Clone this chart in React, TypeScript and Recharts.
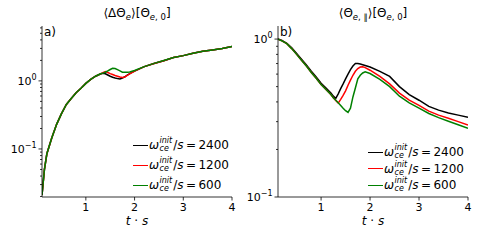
import React from 'react';
import { LineChart, Line, XAxis, YAxis, Legend } from 'recharts';

const FONT = '"DejaVu Sans", sans-serif';

// ---- data panel a: <ΔΘe>
const tA = [0.1, 0.15, 0.2, 0.3, 0.4, 0.5, 0.6, 0.7, 0.8, 0.9, 1.0, 1.1, 1.2, 1.3, 1.35, 1.4, 1.45, 1.5, 1.55, 1.6, 1.65, 1.7, 1.75, 1.8, 1.85, 1.9, 2.0, 2.2, 2.4, 2.6, 2.8, 3.0, 3.2, 3.4, 3.6, 3.8, 4.0];
const blackA = [0.021, 0.05, 0.085, 0.145, 0.23, 0.33, 0.45, 0.55, 0.67, 0.78, 0.92, 1.05, 1.17, 1.26, 1.29, 1.27, 1.22, 1.17, 1.13, 1.1, 1.08, 1.07, 1.1, 1.15, 1.22, 1.28, 1.39, 1.62, 1.8, 1.98, 2.2, 2.35, 2.55, 2.72, 2.85, 3.0, 3.19];
const redA = [0.021, 0.05, 0.085, 0.145, 0.23, 0.33, 0.45, 0.55, 0.67, 0.78, 0.92, 1.05, 1.17, 1.27, 1.32, 1.37, 1.33, 1.28, 1.24, 1.2, 1.17, 1.14, 1.12, 1.14, 1.2, 1.27, 1.39, 1.62, 1.8, 1.98, 2.2, 2.35, 2.55, 2.72, 2.85, 3.0, 3.19];
const greenA = [0.021, 0.05, 0.085, 0.145, 0.23, 0.33, 0.45, 0.55, 0.67, 0.78, 0.92, 1.05, 1.17, 1.27, 1.3, 1.34, 1.4, 1.47, 1.53, 1.52, 1.46, 1.4, 1.34, 1.34, 1.34, 1.35, 1.42, 1.62, 1.81, 1.99, 2.2, 2.35, 2.55, 2.72, 2.85, 3.0, 3.19];

// ---- data panel b: <Θe,∥>
const tB = [0.12, 0.2, 0.3, 0.4, 0.5, 0.6, 0.7, 0.8, 0.9, 1.0, 1.1, 1.2, 1.25, 1.3, 1.35, 1.4, 1.45, 1.5, 1.55, 1.6, 1.65, 1.7, 1.75, 1.8, 1.85, 1.9, 2.0, 2.2, 2.4, 2.6, 2.8, 3.0, 3.2, 3.4, 3.6, 3.8, 4.0];
const blackB = [1.0, 0.98, 0.94, 0.88, 0.81, 0.745, 0.685, 0.625, 0.575, 0.525, 0.49, 0.455, 0.435, 0.422, 0.45, 0.485, 0.52, 0.56, 0.6, 0.64, 0.675, 0.7, 0.7, 0.695, 0.688, 0.68, 0.665, 0.625, 0.58, 0.5, 0.445, 0.41, 0.375, 0.355, 0.34, 0.33, 0.32];
const redB = [1.0, 0.975, 0.935, 0.87, 0.8, 0.735, 0.675, 0.615, 0.565, 0.515, 0.48, 0.445, 0.425, 0.408, 0.393, 0.415, 0.44, 0.47, 0.51, 0.55, 0.59, 0.625, 0.65, 0.665, 0.668, 0.66, 0.635, 0.58, 0.52, 0.455, 0.41, 0.38, 0.35, 0.33, 0.315, 0.3, 0.286];
const greenB = [1.0, 0.975, 0.935, 0.87, 0.8, 0.735, 0.675, 0.615, 0.565, 0.515, 0.48, 0.445, 0.425, 0.41, 0.395, 0.38, 0.365, 0.352, 0.343, 0.365, 0.43, 0.49, 0.56, 0.59, 0.61, 0.62, 0.605, 0.555, 0.5, 0.435, 0.395, 0.365, 0.338, 0.318, 0.302, 0.287, 0.272];

const seriesNames = ['2400', '1200', '600'];
const seriesColors = ['#000000', '#ff0000', '#008000'];

const xTicks = [1, 2, 3, 4];
const yTicksA = [0.02, 0.03, 0.04, 0.05, 0.06, 0.07, 0.08, 0.09, 0.1, 0.2, 0.3, 0.4, 0.5, 0.6, 0.7, 0.8, 0.9, 1, 2, 3, 4, 5, 6];
const yTicksB = [0.1, 0.2, 0.3, 0.4, 0.5, 0.6, 0.7, 0.8, 0.9, 1];

const dataA = tA.map((t, i) => ({ t, s0: blackA[i], s1: redA[i], s2: greenA[i] }));
const dataB = tB.map((t, i) => ({ t, s0: blackB[i], s1: redB[i], s2: greenB[i] }));

const YTick = (props: any) => {
  const { x, y, payload } = props;
  const v = payload.value;
  const lg = Math.log10(v);
  const major = Math.abs(lg - Math.round(lg)) < 1e-6;
  const e = Math.round(lg);
  return (
    <g>
      <line x1={x} x2={x - (major ? 3.5 : 2)} y1={y} y2={y} stroke="#000" strokeWidth={0.8} />
      {major && (
        <text x={x - 5.5} y={y + 4} textAnchor="end" fontFamily={FONT} fontSize={11} fill="#000">
          10<tspan dy={-5} fontSize={8}>{e === 0 ? '0' : '\u2212' + Math.abs(e)}</tspan>
        </text>
      )}
    </g>
  );
};

const XTick = (props: any) => {
  const { x, y, payload } = props;
  return (
    <g>
      <line x1={x} x2={x} y1={y} y2={y + 3.5} stroke="#000" strokeWidth={0.8} />
      <text x={x} y={y + 14} textAnchor="middle" fontFamily={FONT} fontSize={11} fill="#000">
        {payload.value}
      </text>
    </g>
  );
};

const makeLegend = (rowH: number) => (props: any) => {
  const payload = [...(props.payload || [])].sort(
    (a: any, b: any) => seriesNames.indexOf(String(a.value)) - seriesNames.indexOf(String(b.value))
  );
  return (
    <div>
      {payload.map((p: any) => (
        <div key={p.value} style={{ display: 'flex', alignItems: 'center', height: rowH, fontFamily: FONT, fontSize: 12, color: '#000', whiteSpace: 'nowrap' }}>
          <div style={{ width: 15, height: 0, borderTop: `1.5px solid ${p.color}`, marginRight: 1 }} />
          <span style={{ fontStyle: 'italic' }}>ω</span>
          <span style={{ display: 'inline-flex', flexDirection: 'column', fontSize: 8, fontStyle: 'italic', lineHeight: '8px', marginLeft: 0.5, marginRight: 1 }}>
            <span>init</span>
            <span>ce</span>
          </span>
          <span>/<i>s</i>{'\u2009=\u2009'}{p.value}</span>
        </div>
      ))}
    </div>
  );
};

const spine = { stroke: '#000', strokeWidth: 0.8 };

type PanelProps = {
  data: any[];
  xMin: number;
  yDomain: [number, number];
  yTicks: number[];
  yWidth: number;
  rightMargin: number;
  legendLeft: number;
  legendTop: number;
  rowH: number;
};

const Panel = ({ data, xMin, yDomain, yTicks, yWidth, rightMargin, legendLeft, legendTop, rowH }: PanelProps) => (
  <LineChart width={240} height={240} data={data} margin={{ top: 26, right: rightMargin, bottom: 13, left: 2 }}>
    <XAxis dataKey="t" type="number" domain={[xMin, 4]} ticks={xTicks} allowDataOverflow height={30}
      tick={<XTick />} tickLine={false} tickSize={0} tickMargin={0} axisLine={spine} interval={0} />
    <XAxis xAxisId="top" orientation="top" type="number" domain={[xMin, 4]} height={0} tick={false} tickLine={false} axisLine={spine} />
    <YAxis type="number" scale="log" domain={yDomain} ticks={yTicks} allowDataOverflow width={yWidth}
      tick={<YTick />} tickLine={false} tickSize={0} tickMargin={0} axisLine={spine} interval={0} />
    <YAxis yAxisId="right" orientation="right" type="number" domain={[0, 1]} width={0} tick={false} tickLine={false} axisLine={spine} />
    {seriesNames.map((n, i) => (
      <Line key={n} dataKey={'s' + i} name={n} stroke={seriesColors[i]} strokeWidth={1.5} dot={false}
        isAnimationActive={false} type="linear" />
    ))}
    <Legend layout="vertical" align="center" verticalAlign="middle" content={makeLegend(rowH)}
      wrapperStyle={{ left: legendLeft, top: legendTop, width: 110 }} />
  </LineChart>
);

const sub = (s: string, italic = true) => (
  <span style={{ fontSize: 8.5, position: 'relative', top: 3, fontStyle: italic ? 'italic' : 'normal' }}>{s}</span>
);

export default function App() {
  return (
    <div style={{ position: 'absolute', left: 0, top: 0, width: 480, height: 240, background: '#fff', fontFamily: FONT, color: '#000' }}>
      <div style={{ position: 'absolute', left: 0, top: 0 }}>
        <Panel data={dataA} xMin={0.1} yDomain={[0.0197, 6.4]} yTicks={yTicksA} yWidth={40} rightMargin={8}
          legendLeft={133} legendTop={135} rowH={20} />
      </div>
      <div style={{ position: 'absolute', left: 240, top: 0 }}>
        <Panel data={dataB} xMin={0.12} yDomain={[0.1, 1.21]} yTicks={yTicksB} yWidth={36} rightMargin={12}
          legendLeft={128} legendTop={144} rowH={16.5} />
      </div>
      {/* titles */}
      <div style={{ position: 'absolute', left: 42, top: 6, width: 190, textAlign: 'center', fontSize: 12, lineHeight: '14px', whiteSpace: 'nowrap' }}>
        ⟨ΔΘ{sub('e')}⟩[Θ{sub('e')}<span style={{ fontSize: 8.5, position: 'relative', top: 3 }}>, 0</span>]
      </div>
      <div style={{ position: 'absolute', left: 278, top: 6, width: 190, textAlign: 'center', fontSize: 12, lineHeight: '14px', whiteSpace: 'nowrap' }}>
        ⟨Θ{sub('e')}<span style={{ fontSize: 8.5, position: 'relative', top: 3 }}>, ∥</span>⟩[Θ{sub('e')}<span style={{ fontSize: 8.5, position: 'relative', top: 3 }}>, 0</span>]
      </div>
      {/* panel tags */}
      <div style={{ position: 'absolute', left: 44, top: 25, fontSize: 12, lineHeight: '14px' }}>a)</div>
      <div style={{ position: 'absolute', left: 280, top: 25, fontSize: 12, lineHeight: '14px' }}>b)</div>
      {/* x labels */}
      <div style={{ position: 'absolute', left: 42, top: 215, width: 190, textAlign: 'center', fontSize: 12, lineHeight: '13px' }}>
        <i>t</i> · <i>s</i>
      </div>
      <div style={{ position: 'absolute', left: 278, top: 215, width: 190, textAlign: 'center', fontSize: 12, lineHeight: '13px' }}>
        <i>t</i> · <i>s</i>
      </div>
    </div>
  );
}
